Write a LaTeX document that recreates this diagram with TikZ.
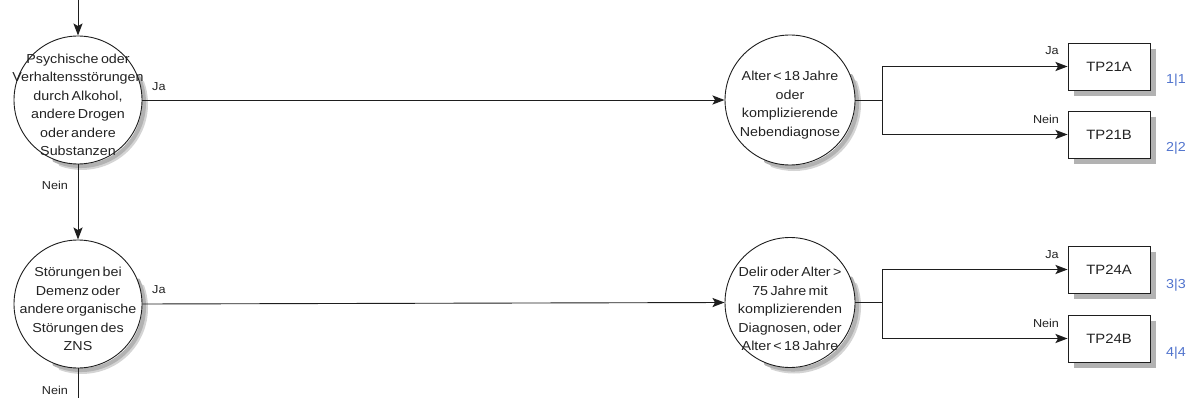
\documentclass[tikz,border=0pt]{standalone}
\usepackage{fontspec}
\setmainfont[FakeStretch=1.1,WordSpace=0.6]{Liberation Sans}
\usetikzlibrary{arrows.meta,backgrounds}
\definecolor{numblue}{RGB}{80,115,205}
\definecolor{linegray}{RGB}{30,30,30}
\definecolor{shadowgray}{RGB}{178,178,178}
\definecolor{shadowlight}{RGB}{212,212,212}
\definecolor{textgray}{RGB}{35,35,35}
\tikzset{
  x=1pt,y=1pt,
  circ/.style={circle,draw=linegray,line width=0.9pt,fill=white,minimum size=#1,inner sep=0pt},
  circtext/.style={align=center,font=\fontsize{13}{18.5}\selectfont,inner sep=0pt,text=textgray},
  tpbox/.style={rectangle,draw=linegray,line width=0.9pt,fill=white,minimum width=82pt,minimum height=47pt,
    font=\fontsize{13.5}{15}\selectfont,text=textgray},
  boxshadow/.style={draw=shadowgray,line width=6pt,line join=miter,line cap=butt},
  circshadow/.style={draw=shadowgray,line width=4pt,line cap=round},
  circshadowsoft/.style={draw=shadowlight,line width=3pt,line cap=round},
  conn/.style={draw=linegray,line width=0.9pt},
  arr/.style={conn,-{Stealth[length=12pt,width=9pt,inset=2.5pt,line width=1.8pt]}},
  lbl/.style={font=\fontsize{11.5}{13}\selectfont,inner sep=0pt,text=textgray},
  num/.style={font=\fontsize{13}{15}\selectfont,text=numblue,inner sep=0pt},
}
\begin{document}
\begin{tikzpicture}
\useasboundingbox (0,0) rectangle (1190,-398);
% shadows of circles (drawn first, behind everything)
\draw[circshadowsoft] (142.6,-81.9) arc[start angle=20,end angle=-110,radius=64.5];
\draw[circshadow] (138.1,-76.4) arc[start angle=25,end angle=-115,radius=63];
\draw[circshadowsoft] (142.6,-285.9) arc[start angle=20,end angle=-110,radius=64.5];
\draw[circshadow] (138.1,-280.4) arc[start angle=25,end angle=-115,radius=63];
\draw[circshadowsoft] (855.55,-81.6) arc[start angle=20,end angle=-110,radius=65.5];
\draw[circshadow] (851.0,-76.0) arc[start angle=25,end angle=-115,radius=64];
\draw[circshadowsoft] (855.55,-284.1) arc[start angle=20,end angle=-110,radius=65.5];
\draw[circshadow] (851.0,-278.5) arc[start angle=25,end angle=-115,radius=64];
% top row
\node[circ=128pt] (c1) at (78,-100) {};
\node[circtext] (t1) at (78,-105) {Psychische oder\\Verhaltensstörungen\\durch Alkohol,\\andere Drogen\\oder andere\\Substanzen};
\node[circ=130pt] (c3) at (790,-100) {};
\node[circtext] (t3) at (790,-105) {Alter < 18 Jahre\\oder\\komplizierende\\Nebendiagnose};
\node[tpbox] (a1) at (1109,-66.5) {TP21A};
\node[tpbox] (b1) at (1109,-134.5) {TP21B};
\node[num] (n1) at (1176,-80) {1|1};
\node[num] (n2) at (1176,-148) {2|2};
% bottom row
\node[circ=128pt] (c2) at (78,-304) {};
\node[circtext] (t2) at (78,-309) {Störungen bei\\Demenz oder\\andere organische\\Störungen des\\ZNS};
\node[circ=130pt] (c4) at (790,-302.5) {};
\node[circtext] (t4) at (790,-309) {Delir oder Alter >\\75 Jahre mit\\komplizierenden\\Diagnosen, oder\\Alter < 18 Jahre};
\node[tpbox] (a2) at (1109,-269.5) {TP24A};
\node[tpbox] (b2) at (1109,-338.5) {TP24B};
\node[num] (n3) at (1176,-285) {3|3};
\node[num] (n4) at (1176,-353) {4|4};
% box shadows
\begin{scope}[on background layer]
\foreach \bx in {a1,b1,a2,b2}
  \draw[boxshadow] ([shift={(3,-6)}]\bx.north east) -- ([shift={(3,-3)}]\bx.south east) -- ([shift={(6,-3)}]\bx.south west);
\end{scope}
% coordinates
\coordinate (top) at (78,0);
\coordinate (bot) at (78,-398);
\coordinate (j1) at (882,-100);
\coordinate (j2) at (882,-302.5);
% connectors
\draw[arr] (top) -- (c1.north);
\draw[arr] (c1.south) -- (c2.north);
\draw[conn] (c2.south) -- (bot);
\draw[arr] (c1.east) -- (c3.west);
\draw[arr] (c2.east) -- (c4.west);
\draw[conn] (c3.east) -- (j1);
\draw[arr] (j1) |- (a1.west);
\draw[arr] (j1) |- (b1.west);
\draw[conn] (c4.east) -- (j2);
\draw[arr] (j2) |- (a2.west);
\draw[arr] (j2) |- (b2.west);
% labels
\node[lbl,anchor=west] (l1) at (152,-87) {Ja};
\node[lbl] (l2) at (55,-185) {Nein};
\node[lbl,anchor=west] (l3) at (152,-290) {Ja};
\node[lbl] (l4) at (55,-390) {Nein};
\node[lbl] (l5) at (1052,-51) {Ja};
\node[lbl] (l6) at (1046,-119) {Nein};
\node[lbl] (l7) at (1052,-255) {Ja};
\node[lbl] (l8) at (1046,-323) {Nein};
\end{tikzpicture}
\end{document}
